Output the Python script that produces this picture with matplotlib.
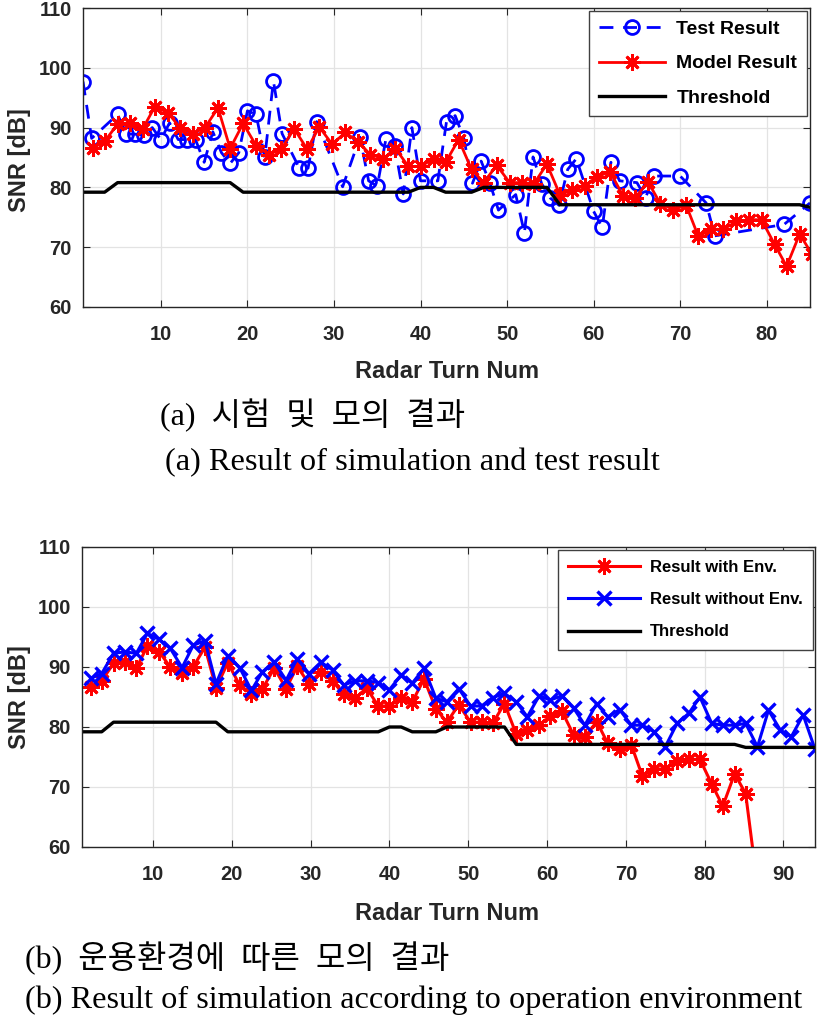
import matplotlib
matplotlib.use("Agg")
import matplotlib.pyplot as plt
import numpy as np

# ---------------- data ----------------
# Model result (= Result with Env.), sampled radar turns
model_x = [2.1, 3.5, 5.0, 6.4, 7.9, 9.3, 10.8, 12.2, 13.7, 15.1, 16.6, 18.0, 19.5, 21.0,
           22.5, 23.9, 25.4, 26.9, 28.3, 29.8, 31.3, 32.8, 34.2, 35.7, 37.1, 38.6, 40.0,
           41.5, 42.9, 44.4, 45.9, 47.3, 48.8, 50.3, 51.7, 53.1, 54.6, 56.1, 57.5, 59.0,
           60.4, 61.9, 63.4, 64.8, 66.3, 67.7, 69.2, 70.7, 72.1, 73.6, 75.0, 76.5, 78.0,
           79.4, 80.9, 82.3, 83.8, 85.2, 86.7]
model_y = [86.6, 87.7, 90.6, 90.8, 89.8, 93.5, 92.5, 90.0, 89.0, 90.0, 93.3, 86.5, 90.7, 87.0,
           85.5, 86.4, 89.8, 86.4, 90.1, 87.2, 89.2, 87.6, 85.5, 84.8, 86.5, 83.5, 83.5,
           84.8, 84.2, 88.0, 83.0, 80.8, 83.7, 80.8, 80.8, 80.6, 83.9, 78.8, 79.5, 80.3,
           81.8, 82.6, 78.6, 78.3, 80.9, 77.3, 76.3, 77.0, 71.8, 73.0, 73.0, 74.3, 74.6,
           74.6, 70.5, 66.8, 72.2, 68.9, 53.5]

# Result without Env.
noenv_x = model_x + [88.1, 89.6, 91.0, 92.5, 94.0]
noenv_y = [88.1, 88.9, 92.3, 92.5, 92.3, 95.6, 94.6, 93.1, 89.9, 93.6, 94.4, 87.2, 91.9, 89.9,
           86.1, 89.2, 90.8, 87.8, 91.4, 88.9, 90.8, 89.5, 87.0, 87.7, 87.7, 87.4, 86.2,
           88.7, 87.3, 89.8, 84.8, 84.2, 86.4, 83.5, 83.5, 84.9, 85.6, 84.2, 81.7, 85.2,
           84.5, 85.2, 83.1, 80.3, 83.9, 81.7, 82.9, 80.3, 80.3, 79.2, 76.7, 80.6, 82.3,
           85.0, 80.6, 80.3, 80.3, 80.6, 76.7, 82.8, 79.5, 78.4, 82.0, 76.3]

# Test result
test_x = [1, 2, 5, 6, 7, 8, 9, 10, 11, 12, 13, 14, 15, 16, 17, 18, 19, 20, 21, 22, 23, 24,
          26, 27, 28, 31, 33, 34, 35, 36, 37, 38, 39, 40, 42, 43, 44, 45, 46, 47, 48, 49,
          51, 52, 53, 54, 55, 56, 57, 58, 60, 61, 62, 63, 65, 66, 67, 70, 73, 74, 82, 85]
test_y = [97.7, 88.2, 92.2, 88.9, 88.9, 88.7, 90.0, 88.0, 90.8, 88.0, 88.0, 88.0, 84.2, 89.3,
          85.8, 84.0, 85.8, 92.8, 92.2, 85.0, 97.8, 89.0, 83.2, 83.2, 91.0, 80.1, 88.4, 81.1,
          80.2, 88.1, 87.0, 78.9, 90.0, 81.1, 81.1, 91.0, 92.0, 88.2, 80.7, 84.4, 80.8, 76.2,
          78.8, 72.4, 85.1, 80.6, 78.2, 77.0, 83.0, 84.8, 76.0, 73.3, 84.2, 81.1, 80.8, 78.3,
          81.9, 81.9, 77.4, 71.9, 73.8, 77.4]

# Threshold (breakpoints)
thr_x = [1, 3.5, 5.0, 18.0, 19.5, 38.6, 40.0, 41.5, 42.9, 45.9, 47.3, 54.6, 56.1, 83.8, 85.2, 94]
thr_y = [79.2, 79.2, 80.8, 80.8, 79.2, 79.2, 80.0, 80.0, 79.2, 79.2, 80.0, 80.0, 77.1, 77.1, 76.6, 76.6]

yticks = [60, 70, 80, 90, 100, 110]
xticks_a = [10, 20, 30, 40, 50, 60, 70, 80]
xticks_b = [10, 20, 30, 40, 50, 60, 70, 80, 90]

legend_a = ["Test Result", "Model Result", "Threshold"]
legend_b = ["Result with Env.", "Result without Env.", "Threshold"]
xlabel = "Radar Turn Num"
ylabel = "SNR [dB]"
cap_a1 = "(a)  시험  및  모의  결과"
cap_a2 = "(a) Result of simulation and test result"
cap_b1 = "(b)  운용환경에  따른  모의  결과"
cap_b2 = "(b) Result of simulation according to operation environment"

# ---------------- figure ----------------
W, H = 827, 1023
fig = plt.figure(figsize=(W / 100, H / 100), dpi=100)
tickfont = dict(family="Liberation Sans", size=14.5, weight="bold")
asterisk = (8, 2, 0)


def style_axes(ax, xlim, xticks):
    ax.set_xlim(*xlim)
    ax.set_ylim(60, 110)
    ax.set_xticks(xticks)
    ax.set_yticks(yticks)
    ax.grid(True, color="#e3e3e3", linewidth=0.9)
    ax.set_axisbelow(True)
    for s in ax.spines.values():
        s.set_color("#262626")
        s.set_linewidth(1.0)
    ax.tick_params(direction="in", length=5, width=0.8, color="#262626",
                   top=True, right=True)
    ax.tick_params(axis="x", pad=13)
    ax.tick_params(axis="y", pad=8)
    for lab in ax.get_xticklabels() + ax.get_yticklabels():
        lab.set_fontfamily(tickfont["family"])
        lab.set_fontsize(tickfont["size"])
        lab.set_fontweight(tickfont["weight"])
        lab.set_color("#262626")


def px(x, y):
    return x / W, 1 - y / H


# ---- (a) ----
ax1 = fig.add_axes([83 / W, 1 - 307 / H, 727 / W, 299 / H])
ax1.plot(test_x, test_y, color="blue", linestyle=(0, (5, 3.5)), linewidth=2.0,
         marker="o", markersize=10, markerfacecolor="none", markeredgewidth=2.0,
         label=legend_a[0])
ax1.plot(model_x, model_y, color="red", linewidth=2.0, marker=asterisk, markersize=12,
         markeredgewidth=2.0, label=legend_a[1])
ax1.plot(thr_x, thr_y, color="black", linewidth=2.4, label=legend_a[2])
style_axes(ax1, (1, 85), xticks_a)
leg1 = ax1.legend(loc="upper right", borderaxespad=0.15, fancybox=False, framealpha=1,
                  edgecolor="#404040", handlelength=3.4, handletextpad=0.6,
                  labelspacing=0.85, borderpad=0.5,
                  prop=dict(family="Liberation Sans", size=14, weight="bold"))
leg1.get_frame().set_linewidth(1.0)

# ---- (b) ----
ax2 = fig.add_axes([82 / W, 1 - 847 / H, 733 / W, 300 / H])
ax2.plot(model_x, model_y, color="red", linewidth=2.2, marker=asterisk, markersize=12,
         markeredgewidth=2.0, label=legend_b[0])
ax2.plot(noenv_x, noenv_y, color="blue", linewidth=2.2, marker="x", markersize=10,
         markeredgewidth=2.4, label=legend_b[1])
ax2.plot(thr_x, thr_y, color="black", linewidth=2.4, label=legend_b[2])
style_axes(ax2, (1, 94), xticks_b)
leg2 = ax2.legend(loc="upper right", borderaxespad=0.15, fancybox=False, framealpha=1,
                  edgecolor="#404040", handlelength=4.3, handletextpad=0.6,
                  labelspacing=1.05, borderpad=0.6,
                  prop=dict(family="Liberation Sans", size=12, weight="bold"))
leg2.get_frame().set_linewidth(1.0)

# axis labels
labfont = dict(family="Liberation Sans", size=17, weight="bold", color="#262626")
fig.text(*px(447, 372), xlabel, ha="center", va="center", **labfont)
fig.text(*px(447, 913), xlabel, ha="center", va="center", **labfont)
fig.text(*px(20, 160), ylabel, ha="center", va="center", rotation=90, **labfont)
fig.text(*px(20, 697), ylabel, ha="center", va="center", rotation=90, **labfont)

# captions
capfam = ["Liberation Serif", "Noto Sans CJK KR"]
fig.text(*px(160, 415), cap_a1, ha="left", va="center", family=capfam, size=23)
fig.text(*px(165, 463), cap_a2, ha="left", va="center", family=capfam, size=23.3)
fig.text(*px(25, 958), cap_b1, ha="left", va="center", family=capfam, size=23)
fig.text(*px(25, 1000), cap_b2, ha="left", va="center", family=capfam, size=23.2)

fig.savefig("out.png", dpi=100)
